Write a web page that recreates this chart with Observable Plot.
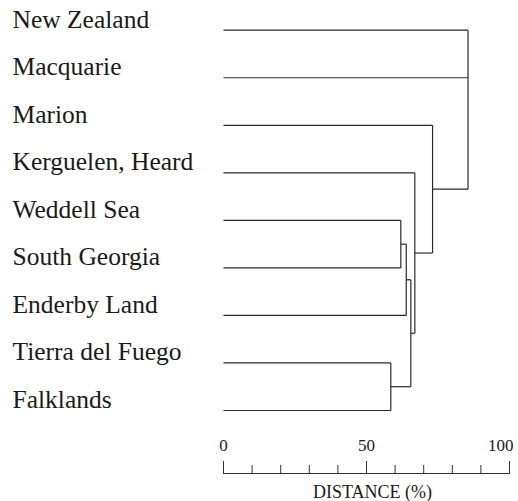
<!DOCTYPE html>
<html><head><meta charset="utf-8">
<script src="https://cdn.jsdelivr.net/npm/d3@7"></script>
<script src="https://cdn.jsdelivr.net/npm/@observablehq/plot@0.6"></script>
<style>body{margin:0;background:#fff;} svg{display:block} svg text{font-family:"Liberation Serif",serif;}</style>
</head><body><div id="chart"></div>
<script>
// Leaves (top to bottom)
const leaves = ["New Zealand", "Macquarie", "Marion", "Kerguelen, Heard", "Weddell Sea",
  "South Georgia", "Enderby Land", "Tierra del Fuego", "Falklands"];
// Clusters: names, children, merge distance (%)
const clusterNames = ["c1", "c2", "c3", "c4", "c5", "c6", "c7"];
const clusterChildren = [
  ["Weddell Sea", "South Georgia"],
  ["c1", "Enderby Land"],
  ["Tierra del Fuego", "Falklands"],
  ["c2", "c3"],
  ["Kerguelen, Heard", "c4"],
  ["Marion", "c5"],
  ["New Zealand", "Macquarie", "c6"]
];
const clusterHeights = [62.0, 63.9, 58.5, 65.5, 66.9, 73.1, 85.5];
const majorTicks = [0, 50, 100];
const minorTicks = [10, 20, 30, 40, 60, 70, 80, 90];
const xLabel = "DISTANCE (%)";

// Build node positions (x = distance, y = leaf index / midpoint of children)
const pos = new Map();
leaves.forEach((name, i) => pos.set(name, {x: 0, y: i}));
const segments = [];
clusterNames.forEach((name, k) => {
  const kids = clusterChildren[k].map(c => pos.get(c));
  const h = clusterHeights[k];
  kids.forEach(c => segments.push({x1: c.x, y1: c.y, x2: h, y2: c.y}));
  const ys = kids.map(c => c.y);
  segments.push({x1: h, y1: d3.min(ys), x2: h, y2: d3.max(ys)});
  const first = kids[0].y, last = kids[kids.length - 1].y;
  pos.set(name, {x: h, y: (first + last) / 2});
});

const W = 518, H = 501, mL = 223, mR = 9, mT = 30, mB = 28;
const frameH = H - mT - mB;
const serif = "Liberation Serif";

const chart = Plot.plot({
  width: W, height: H,
  marginLeft: mL, marginRight: mR, marginTop: mT, marginBottom: mB,
  x: {domain: [0, 100], axis: null},
  y: {domain: [0, leaves.length - 1], range: [29.7, 410], axis: null},
  style: "font-family: 'Liberation Serif', serif; background: white;",
  marks: [
    Plot.link(segments, {x1: "x1", y1: "y1", x2: "x2", y2: "y2", stroke: "#2a2a2a", strokeWidth: 1.2}),
    Plot.text(leaves, {frameAnchor: "left", y: (d, i) => i, text: d => d, dx: -211, dy: -2.5,
      textAnchor: "start", lineAnchor: "bottom", fontSize: 25.5, fontFamily: serif, fill: "#1a1a1a"}),
    Plot.frame({anchor: "bottom", stroke: "#333", strokeWidth: 1}),
    Plot.tickX(majorTicks, {x: d => d, insetTop: frameH - 12, stroke: "#333", strokeWidth: 1}),
    Plot.tickX(minorTicks, {x: d => d, insetTop: frameH - 8, stroke: "#333", strokeWidth: 1}),
    Plot.text(majorTicks.slice(0, 2), {x: d => d, text: d => String(d), frameAnchor: "bottom", dy: -23,
      lineAnchor: "bottom", fontSize: 17, fontFamily: serif, fill: "#1a1a1a"}),
    Plot.text(majorTicks.slice(2), {x: d => d, text: d => String(d), frameAnchor: "bottom", dy: -23, dx: 4,
      textAnchor: "end", lineAnchor: "bottom", fontSize: 17, fontFamily: serif, fill: "#1a1a1a"}),
    Plot.text([xLabel], {x: () => 50, text: d => d, frameAnchor: "bottom", dx: 6, dy: 24,
      lineAnchor: "bottom", fontSize: 18, fontFamily: serif, fill: "#1a1a1a"})
  ]
});
document.getElementById("chart").appendChild(chart);
</script>
</body></html>
